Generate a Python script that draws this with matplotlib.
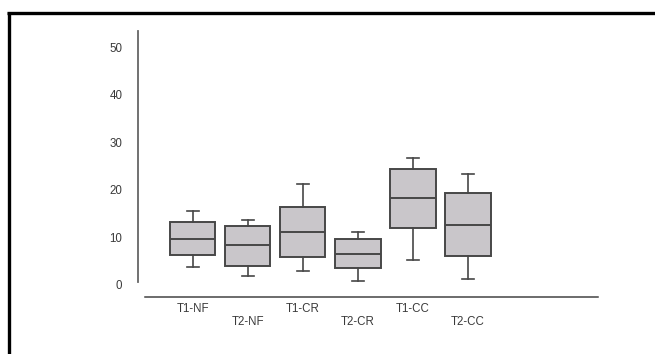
import matplotlib
matplotlib.use("Agg")
import matplotlib.pyplot as plt
from matplotlib.lines import Line2D
import matplotlib.transforms as mtransforms

plt.rcParams["font.family"] = ["Liberation Sans", "DejaVu Sans"]

categories = ["T1-NF", "T2-NF", "T1-CR", "T2-CR", "T1-CC", "T2-CC"]
whislo = [3.7, 1.9, 3.0, 0.9, 5.3, 1.2]
q1 = [6.3, 4.1, 5.8, 3.6, 12.1, 6.0]
med = [9.7, 8.4, 11.1, 6.6, 18.3, 12.7]
q3 = [13.2, 12.5, 16.4, 9.7, 24.4, 19.3]
whishi = [15.6, 13.7, 21.2, 11.2, 26.7, 23.4]
yticks = [0, 10, 20, 30, 40, 50]

W, H = 655, 354
fig = plt.figure(figsize=(W / 100, H / 100), dpi=100)
fig.patch.set_facecolor("white")

# axes placement in pixels
ax_left, ax_right = 137.7, 598
ax_top, ax_bottom = 31, 297
ax = fig.add_axes([ax_left / W, 1 - ax_bottom / H, (ax_right - ax_left) / W, (ax_bottom - ax_top) / H])

stats = []
for i, c in enumerate(categories):
    stats.append(dict(label=c, whislo=whislo[i], q1=q1[i], med=med[i], q3=q3[i], whishi=whishi[i], fliers=[]))

pos = list(range(1, len(categories) + 1))
edge = "#474747"
ax.bxp(stats, positions=pos, widths=0.82, patch_artist=True, showfliers=False,
       boxprops=dict(facecolor="#c9c6ca", edgecolor=edge, linewidth=1.4),
       medianprops=dict(color=edge, linewidth=1.4),
       whiskerprops=dict(color=edge, linewidth=1.2),
       capprops=dict(color=edge, linewidth=1.2),
       capwidths=0.22)

ax.set_xlim(0, 8.36)
ax.set_ylim(-2.53, 53.47)
ax.set_yticks(yticks)
ax.set_yticklabels([str(t) for t in yticks])
ax.tick_params(axis="y", length=0, pad=11, labelsize=8.3, labelcolor="#3a3a3a")
ax.set_xticks([])
for s in ["top", "right"]:
    ax.spines[s].set_visible(False)
ax.spines["left"].set_color("#666666")
ax.spines["left"].set_linewidth(1.3)
ax.spines["left"].set_bounds(0.6, 53.47)
ax.spines["bottom"].set_color("#444444")
ax.spines["bottom"].set_linewidth(1.1)
ax.spines["bottom"].set_bounds(0.13, 8.36)

trans = mtransforms.blended_transform_factory(ax.transData, fig.transFigure)
for i, c in enumerate(categories):
    ypx = 309.5 if i % 2 == 0 else 322
    ax.text(pos[i], 1 - ypx / H, c, transform=trans, ha="center", va="center",
            fontsize=8.3, color="#3a3a3a")

# frame lines (top and left)
fig.add_artist(Line2D([7 / W, 1.0], [1 - 13 / H, 1 - 13 / H], transform=fig.transFigure,
                      color="black", linewidth=2.4, solid_capstyle="butt"))
fig.add_artist(Line2D([8.5 / W, 8.5 / W], [0, 1 - 11.5 / H], transform=fig.transFigure,
                      color="black", linewidth=2.4, solid_capstyle="butt"))

fig.savefig("out.png", dpi=100)
